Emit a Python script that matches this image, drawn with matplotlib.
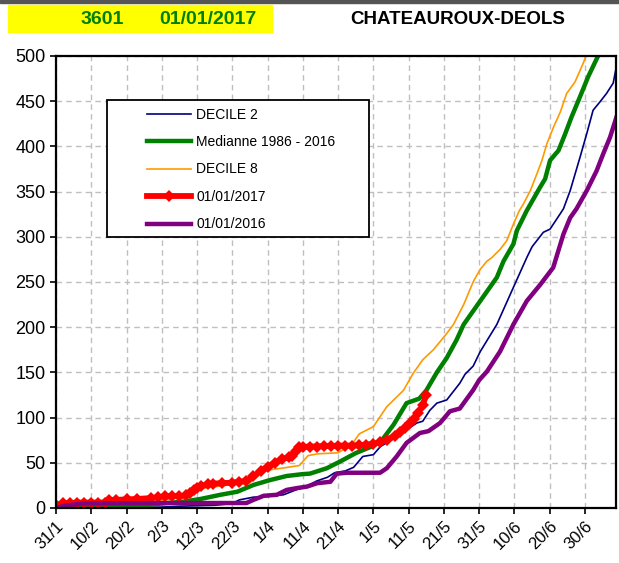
import matplotlib.pyplot as plt
from matplotlib.patches import Rectangle

plt.rcParams['font.family'] = ['Liberation Sans', 'DejaVu Sans']

# day index counted from 31/1
tick_days = [0, 10, 20, 30, 40, 50, 60, 70, 80, 90, 100, 110, 120, 130, 140, 150]
tick_labels = ["31/1", "10/2", "20/2", "2/3", "12/3", "22/3", "1/4", "11/4",
               "21/4", "1/5", "11/5", "21/5", "31/5", "10/6", "20/6", "30/6"]

dec2_days = [0, 10, 20, 30, 35, 45, 50, 52, 56, 60, 64.5, 68, 71, 74, 77, 79, 82, 84.4,
             87, 90, 92, 96.6, 100, 102.3, 104, 106, 108, 110.8, 114.5, 116, 118.3,
             120.3, 125, 129.7, 133.5, 135, 138.2, 140.1, 142.9, 143.9, 145.8, 148.6,
             150.5, 152.3, 154.2, 156.1, 158, 158.9]
dec2_vals = [0, 0, 0.5, 1, 2, 3, 5, 9, 12, 12.8, 14.6, 20, 24, 30, 34, 39, 41, 45,
             57, 59, 68, 79, 88, 94, 96, 108, 116, 119.5, 138, 148, 157,
             173, 203, 244, 277, 289, 305, 308.5, 325, 331, 351, 388,
             414, 440, 449, 458.5, 470, 488]

med_days = [0, 10, 20, 25, 30, 36, 41, 46.6, 51.4, 56, 60.8, 65.4, 70, 72, 76.8, 80.6,
            85, 90, 92.8, 95.7, 99.4, 103, 105, 108, 110.8, 113.6, 115.6, 120.3, 125,
            126.9, 129.7, 130.7, 133.5, 137.3, 138.7, 140.1, 142.5, 144.4, 146.2,
            148.6, 150.9, 153.7]
med_vals = [0, 1, 2, 3, 5, 7, 10, 14.6, 18, 25.5, 31, 35.4, 37.5, 38, 44, 51.5,
            60.7, 68.8, 77, 92, 116, 121, 130, 150, 166, 186, 203, 229, 255,
            273, 292, 307, 329, 355, 364, 384.5, 395.5, 414, 432.6,
            455, 477, 500]

dec8_days = [0, 10, 25, 30, 35, 38, 42, 48, 55, 58, 60, 64, 69, 71.5, 74.4, 80, 84, 86,
             90, 93.8, 98.5, 101.3, 104, 107, 110.6, 112.7, 115.6, 118.4, 120.3, 122.2,
             123.6, 125.9, 127.8, 129.7, 131.4, 132.5, 134.5, 136.4, 137.8, 139.2,
             141.1, 143, 144.8, 147.2, 149.5, 150.3]
dec8_vals = [2, 4, 5, 8, 12, 16, 22, 25, 28, 38, 42, 44, 47, 58, 60, 61, 71, 82,
             90, 112, 130, 149, 164, 175, 192, 203, 225, 251, 264, 273,
             277, 286, 295.5, 314, 329, 336, 351, 370, 384.5, 403,
             421.5, 438, 458.5, 471.5, 492, 500]

y2017_days = [0, 2, 4, 6, 8, 10, 12, 14, 15, 17, 20, 23, 27, 29, 31, 33, 35, 37, 38, 39,
              40, 41, 43, 44.6, 47, 50, 52, 54, 56, 58, 60, 62, 64, 66, 67, 68, 69, 70,
              72, 74, 76, 78, 80, 82, 84, 86, 88, 90, 92, 93.8, 96, 97.5, 99, 100.4,
              101.5, 102.7, 104, 105]
y2017_vals = [3, 5, 5.5, 6, 6, 6, 6, 6, 9, 9, 9.5, 10, 11, 12, 12.8, 13, 13, 14, 17, 20,
              22, 24.5, 26, 27, 27.5, 28, 29, 30, 35, 41, 45.6, 50, 54, 56, 58, 63, 67, 67.5,
              68, 68, 68.5, 68.5, 69, 69, 69, 69.5, 70, 71, 72.5, 75, 80, 84.5, 89, 94,
              99, 105, 114, 125]

y2016_days = [0, 3, 8, 30, 54, 56, 58.9, 62.6, 65.4, 68.3, 71.2, 74, 77.8, 79.6, 82.5,
              91.9, 93.8, 96.6, 99.4, 103.2, 105.6, 108.9, 111.7, 114.5, 118.3, 120,
              122.2, 125.9, 129.7, 133.5, 137.3, 141, 143.9, 145.8, 147.6, 150.5,
              153.3, 155.2, 157.1, 158.9]
y2016_vals = [0, 3, 5, 5.5, 5.5, 9, 13.5, 14.6, 20, 22, 23.7, 27.4, 29, 38, 39,
              39, 44, 57, 72, 83, 85, 94, 107, 110, 130.5, 141.5,
              151, 173, 203, 229, 247, 266, 303, 321, 331, 351,
              373, 392, 410, 432]

fig = plt.figure(figsize=(6.19, 5.63), dpi=100)

# header
fig.patches.append(Rectangle((0, 1 - 3 / 563), 1, 3 / 563, transform=fig.transFigure,
                             color='#555555', zorder=0))
fig.patches.append(Rectangle((8 / 619, 1 - 32 / 563), 264 / 619, 27 / 563,
                             transform=fig.transFigure, color='#FFFF00', zorder=0))
fig.text(81 / 619, 1 - 19 / 563, "3601", color='#008000', fontsize=14,
         fontweight='bold', va='center', ha='left')
fig.text(159 / 619, 1 - 19 / 563, "01/01/2017", color='#008000', fontsize=14,
         fontweight='bold', va='center', ha='left')
fig.text(350 / 619, 1 - 19 / 563, "CHATEAUROUX-DEOLS", color='black', fontsize=13.5,
         fontweight='bold', va='center', ha='left')

ax = fig.add_axes([56 / 619, 1 - 508 / 563, 560 / 619, 452 / 563])

ax.plot(dec2_days, dec2_vals, color='#000080', lw=1.2, label='DECILE 2')
ax.plot(med_days, med_vals, color='#008000', lw=3.2, label='Medianne 1986 - 2016')
ax.plot(dec8_days, dec8_vals, color='#FF9900', lw=1.2, label='DECILE 8')
ax.plot(y2017_days, y2017_vals, color='#FF0000', lw=4.2, marker='D', markersize=6.5,
        markeredgewidth=0, label='01/01/2017')
ax.plot(y2016_days, y2016_vals, color='#800080', lw=3.2, label='01/01/2016')

ax.set_xlim(0, 158.8)
ax.set_ylim(0, 500)
ax.set_xticks(tick_days)
ax.set_xticklabels(tick_labels, rotation=45, ha='right', rotation_mode='anchor',
                   fontsize=12)
ax.set_yticks(range(0, 501, 50))
ax.tick_params(axis='y', labelsize=13, length=4, width=1.2)
ax.tick_params(axis='x', length=4, width=1.2)
ax.grid(True, color='#BFBFBF', linestyle=(0, (4, 3)), lw=1)
ax.set_axisbelow(True)
for sp in ax.spines.values():
    sp.set_linewidth(1.6)

# legend box
ax.add_patch(Rectangle((0.0916, 0.600), 0.467, 0.303, transform=ax.transAxes,
                       facecolor='white', edgecolor='black', lw=1.3, zorder=4))
leg = ax.legend(loc='upper left', bbox_to_anchor=(0.162, 0.886), frameon=False,
                borderpad=0, borderaxespad=0, handlelength=3.2, handletextpad=0.35,
                labelspacing=0.97, fontsize=10, numpoints=1)
leg.set_zorder(5)

plt.savefig("out.png", dpi=100)
